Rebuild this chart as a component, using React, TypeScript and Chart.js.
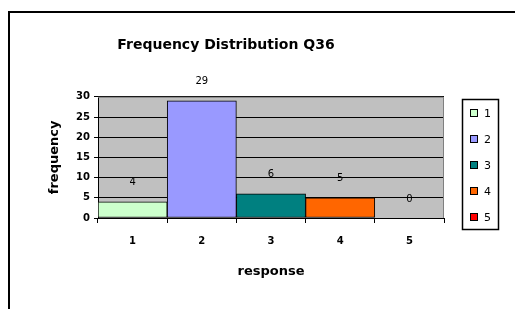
import React, { useEffect, useRef } from "react";
import { Chart, registerables } from "chart.js";

Chart.register(...registerables);

const categories = ["1", "2", "3", "4", "5"];
const frequency = [4, 29, 6, 5, 0];
const barColors = ["#CCFFCC", "#9999FF", "#008080", "#FF6600", "#FF0000"];
const chartTitle = "Frequency Distribution Q36";
const xTitle = "response";
const yTitle = "frequency";
const yMin = 0;
const yMax = 30;
const yStep = 5;

const FONT = "'DejaVu Sans', sans-serif";

const decor = {
  id: "decor",
  beforeDraw(chart: any) {
    const { ctx, chartArea: a } = chart;
    ctx.save();
    ctx.fillStyle = "#C0C0C0";
    ctx.fillRect(a.left, a.top, a.right - a.left, a.bottom - a.top);
    ctx.restore();
  },
  afterDatasetsDraw(chart: any) {
    const { ctx } = chart;
    const meta = chart.getDatasetMeta(0);
    ctx.save();
    ctx.font = `10px ${FONT}`;
    ctx.fillStyle = "#000";
    ctx.textAlign = "center";
    ctx.textBaseline = "middle";
    meta.data.forEach((bar: any, i: number) => {
      ctx.fillText(String(frequency[i]), bar.x, bar.y - 19);
    });
    ctx.restore();
  },
  afterDraw(chart: any) {
    const { ctx, chartArea: a } = chart;
    ctx.save();
    // plot border (top and right)
    ctx.strokeStyle = "#808080";
    ctx.lineWidth = 1;
    ctx.beginPath();
    ctx.moveTo(a.left, a.top + 0.5);
    ctx.lineTo(a.right - 0.5, a.top + 0.5);
    ctx.lineTo(a.right - 0.5, a.bottom);
    ctx.stroke();

    // legend
    const bx = Math.round(a.right) + 18;
    const by = Math.round(a.top) + 2;
    const bw = 36;
    const bh = 130;
    ctx.strokeStyle = "#000";
    ctx.lineWidth = 1.5;
    ctx.strokeRect(bx + 0.5, by + 0.5, bw, bh);
    ctx.font = `11px ${FONT}`;
    ctx.textAlign = "left";
    ctx.textBaseline = "middle";
    categories.forEach((c, i) => {
      const cy = by + 14 + i * 26;
      ctx.fillStyle = barColors[i];
      ctx.fillRect(bx + 8, cy - 4, 8, 8);
      ctx.strokeStyle = "#000";
      ctx.lineWidth = 1;
      ctx.strokeRect(bx + 8.5, cy - 3.5, 7, 7);
      ctx.fillStyle = "#000";
      ctx.fillText(c, bx + 22, cy + 1);
    });
    ctx.restore();
  },
};

export default function App() {
  const ref = useRef<HTMLCanvasElement | null>(null);

  useEffect(() => {
    if (!ref.current) return;
    const chart = new Chart(ref.current, {
      type: "bar",
      data: {
        labels: categories,
        datasets: [
          {
            label: "frequency",
            data: frequency,
            backgroundColor: barColors,
            borderColor: "#000",
            borderWidth: 1,
            borderSkipped: false,
            categoryPercentage: 1,
            barPercentage: 1,
          },
        ],
      },
      options: {
        responsive: false,
        animation: false,
        devicePixelRatio: 1,
        layout: { padding: { top: 32, left: 8, right: 71, bottom: 30 } },
        plugins: {
          legend: { display: false },
          tooltip: { enabled: false },
          title: {
            display: true,
            text: chartTitle,
            color: "#000",
            font: { family: FONT, size: 14, weight: "bold" },
            padding: { top: 5, bottom: 43 },
          },
        },
        scales: {
          x: {
            grid: {
              display: true,
              drawOnChartArea: false,
              drawTicks: true,
              tickLength: 5,
              color: "#000",
              offset: true,
            },
            border: { display: true, color: "#000", width: 1 },
            ticks: {
              color: "#000",
              font: { family: FONT, size: 10, weight: "bold" },
              padding: 12,
            },
            title: {
              display: true,
              text: xTitle,
              color: "#000",
              font: { family: FONT, size: 13, weight: "bold" },
              padding: { top: 4.4, bottom: 0 },
            },
          },
          y: {
            min: yMin,
            max: yMax,
            afterFit(scale: any) {
              scale.width = 90;
            },
            grid: {
              color: "#000",
              lineWidth: 1,
              drawTicks: true,
              tickLength: 4,
            },
            border: { display: true, color: "#000", width: 1 },
            ticks: {
              stepSize: yStep,
              color: "#000",
              font: { family: FONT, size: 10, weight: "bold" },
              padding: 4,
            },
            title: {
              display: true,
              text: yTitle,
              color: "#000",
              font: { family: FONT, size: 13, weight: "bold" },
              padding: { top: 39, bottom: 0 },
            },
          },
        },
      },
      plugins: [decor],
    });
    return () => chart.destroy();
  }, []);

  return (
    <div
      style={{
        position: "fixed",
        left: 0,
        top: 0,
        width: 515,
        height: 309,
        overflow: "hidden",
        background: "#fff",
      }}
    >
      <div
        style={{
          position: "absolute",
          left: 8,
          top: 11,
          width: 600,
          height: 400,
          border: "2px solid #000",
        }}
      />
      <canvas
        ref={ref}
        width={515}
        height={309}
        style={{ position: "absolute", left: 0, top: 0, width: 515, height: 309 }}
      />
    </div>
  );
}
